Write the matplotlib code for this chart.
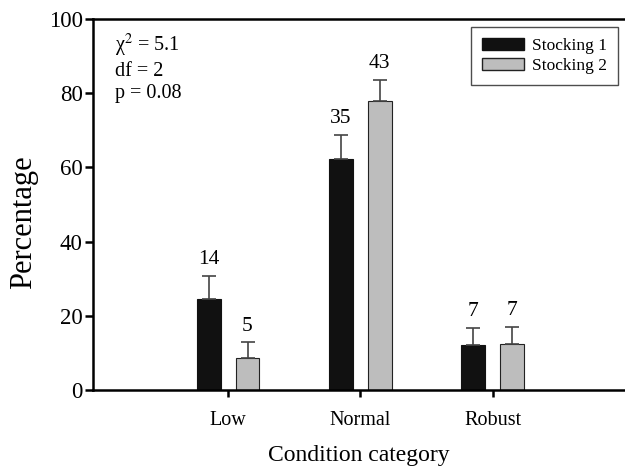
import matplotlib
matplotlib.use("Agg")
import matplotlib.pyplot as plt
import numpy as np
from matplotlib.patches import Patch

categories = ["Low", "Normal", "Robust"]
stocking1 = [24.6, 62.4, 12.0]
stocking1_err = [6.2, 6.3, 4.8]
stocking2 = [8.7, 78.0, 12.4]
stocking2_err = [4.1, 5.6, 4.7]
counts1 = ["14", "35", "7"]
counts2 = ["5", "43", "7"]
series_names = ["Stocking 1", "Stocking 2"]

plt.rcParams["font.family"] = ["Liberation Serif", "DejaVu Serif"]

fig = plt.figure(figsize=(6.25, 4.67), dpi=100)
ax = fig.add_axes([0.149, 0.165, 0.851, 0.794])

x = np.arange(len(categories))
w = 0.18
off = 0.147
c1, c2 = "#111111", "#bdbdbd"
ekw = dict(ecolor="#444444", elinewidth=1.2, capsize=5, capthick=1.2)

ax.bar(x - off, stocking1, w, color=c1, edgecolor="#111111", linewidth=0.8,
       yerr=[np.zeros(3), stocking1_err], error_kw=ekw, zorder=2)
ax.bar(x + off, stocking2, w, color=c2, edgecolor="#222222", linewidth=0.8,
       yerr=[np.zeros(3), stocking2_err], error_kw=ekw, zorder=2)

for xi, v, e, t in zip(x - off, stocking1, stocking1_err, counts1):
    ax.annotate(t, (xi, v + e), xytext=(0, 5), textcoords="offset points",
                ha="center", va="bottom", fontsize=15.5)
for xi, v, e, t in zip(x + off, stocking2, stocking2_err, counts2):
    ax.annotate(t, (xi, v + e), xytext=(0, 5), textcoords="offset points",
                ha="center", va="bottom", fontsize=15.5)

ax.set_xlim(-1.02, 3.0)
ax.set_ylim(0, 100)
ax.set_xticks(x)
ax.set_xticklabels(categories, fontsize=14.5)
ax.set_yticks([0, 20, 40, 60, 80, 100])
ax.tick_params(axis="y", direction="out", length=6, width=1.8, labelsize=16.5, pad=1.5)
ax.tick_params(axis="x", direction="out", length=5, width=1.8, labelsize=14.5, pad=10)

for s in ["left", "bottom", "top"]:
    ax.spines[s].set_linewidth(1.8)
ax.spines["right"].set_visible(False)

ax.set_ylabel("Percentage", fontsize=22)
ax.yaxis.set_label_coords(-0.103, 0.453)
ax.set_xlabel("Condition category", fontsize=17, labelpad=11)

ax.text(0.041, 0.965, "χ$^{2}$ = 5.1\ndf = 2\np = 0.08", transform=ax.transAxes,
        ha="left", va="top", fontsize=14.5, linespacing=1.2,
        math_fontfamily="stix")

handles = [Patch(facecolor=c1, edgecolor="#111111", label=series_names[0]),
           Patch(facecolor=c2, edgecolor="#222222", label=series_names[1])]
leg = ax.legend(handles=handles, loc="upper right", bbox_to_anchor=(0.987, 0.978),
                borderaxespad=0.0,
                fontsize=12.5, frameon=True, fancybox=False, edgecolor="#222222",
                handlelength=2.4, handleheight=0.7, borderpad=0.62, labelspacing=0.2,
                handletextpad=0.5)
leg.get_frame().set_linewidth(1.0)

fig.savefig("out.png", dpi=100)
